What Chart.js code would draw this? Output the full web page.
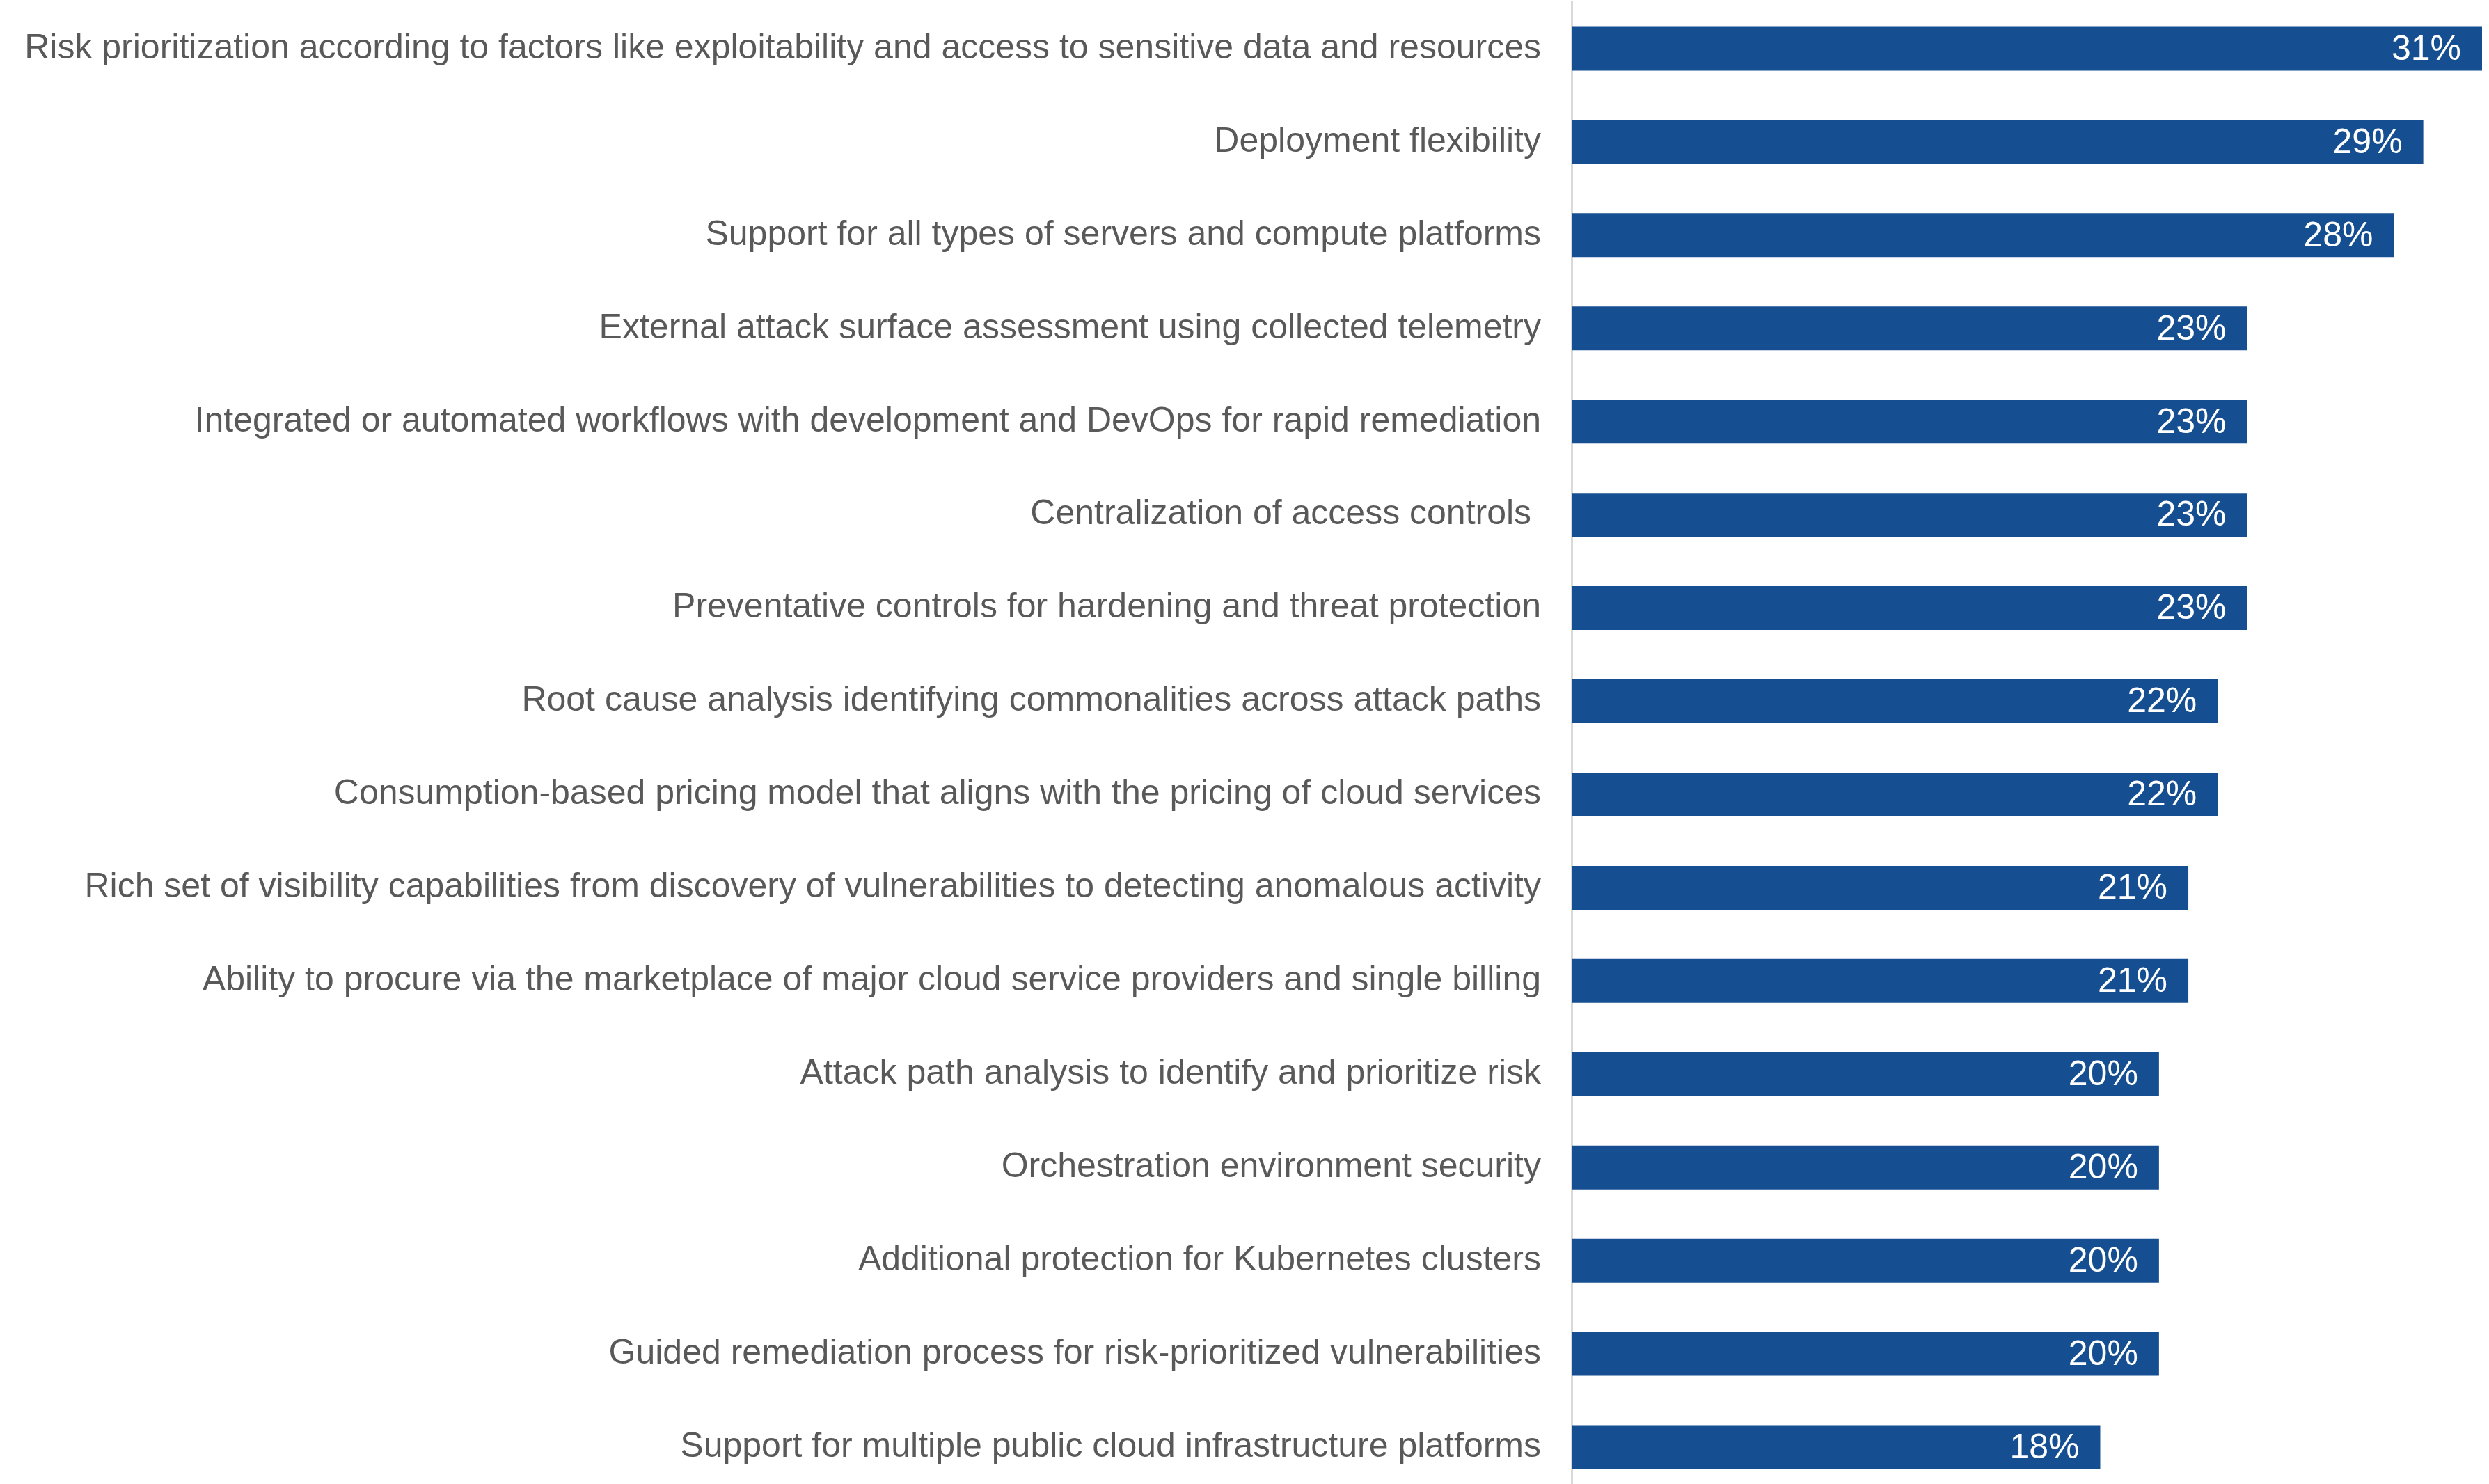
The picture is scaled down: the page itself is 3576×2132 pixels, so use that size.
<!DOCTYPE html>
<html>
<head>
<meta charset="utf-8">
<style>
  html, body { margin: 0; padding: 0; background: #ffffff; overflow: hidden; }
  #wrap { width: 3576px; height: 2146px; }
</style>
<script src="https://cdn.jsdelivr.net/npm/chart.js@4.4.1/dist/chart.umd.min.js"></script>
</head>
<body>
<div id="wrap"><canvas id="chart" width="3576" height="2146"></canvas></div>
<script>
const categories = [
  "Risk prioritization according to factors like exploitability and access to sensitive data and resources",
  "Deployment flexibility",
  "Support for all types of servers and compute platforms",
  "External attack surface assessment using collected telemetry",
  "Integrated or automated workflows with development and DevOps for rapid remediation",
  "Centralization of access controls ",
  "Preventative controls for hardening and threat protection",
  "Root cause analysis identifying commonalities across attack paths",
  "Consumption-based pricing model that aligns with the pricing of cloud services",
  "Rich set of visibility capabilities from discovery of vulnerabilities to detecting anomalous activity",
  "Ability to procure via the marketplace of major cloud service providers and single billing",
  "Attack path analysis to identify and prioritize risk",
  "Orchestration environment security",
  "Additional protection for Kubernetes clusters",
  "Guided remediation process for risk-prioritized vulnerabilities",
  "Support for multiple public cloud infrastructure platforms"
];
const percentValues = [31, 29, 28, 23, 23, 23, 23, 22, 22, 21, 21, 20, 20, 20, 20, 18];

const FONT_FAMILY = "'Liberation Sans', Arial, Helvetica, sans-serif";
const FONT_SIZE = 50;

// Writes each percentage inside the right end of its bar
const barValueLabels = {
  id: 'barValueLabels',
  afterDatasetsDraw(chart) {
    const ctx = chart.ctx;
    const meta = chart.getDatasetMeta(0);
    const values = chart.data.datasets[0].data;
    ctx.save();
    ctx.font = FONT_SIZE + 'px ' + FONT_FAMILY;
    ctx.fillStyle = '#ffffff';
    ctx.textAlign = 'right';
    ctx.textBaseline = 'middle';
    meta.data.forEach((bar, i) => {
      ctx.fillText(values[i] + '%', bar.x - 30, bar.y + 2);
    });
    ctx.restore();
  }
};

new Chart(document.getElementById('chart'), {
  type: 'bar',
  data: {
    labels: categories,
    datasets: [{
      data: percentValues,
      backgroundColor: '#154e91',
      borderWidth: 0,
      barPercentage: 0.47,
      categoryPercentage: 1.0
    }]
  },
  options: {
    indexAxis: 'y',
    responsive: false,
    animation: false,
    events: [],
    layout: { padding: { top: 3, right: 10, bottom: 0, left: 0 } },
    plugins: {
      legend: { display: false },
      tooltip: { enabled: false }
    },
    scales: {
      x: {
        display: false,
        min: 0,
        max: 31
      },
      y: {
        afterFit(scale) {
          // fixed label column; the category bands fill the full height
          scale.width = 2258;
          scale.paddingTop = 0;
          scale.paddingBottom = 0;
        },
        grid: { display: false, drawTicks: false },
        border: { display: true, color: '#d9d9d9', width: 3 },
        ticks: {
          color: '#595959',
          padding: 44,
          font: { family: FONT_FAMILY, size: FONT_SIZE }
        }
      }
    }
  },
  plugins: [barValueLabels]
});
</script>
</body>
</html>
